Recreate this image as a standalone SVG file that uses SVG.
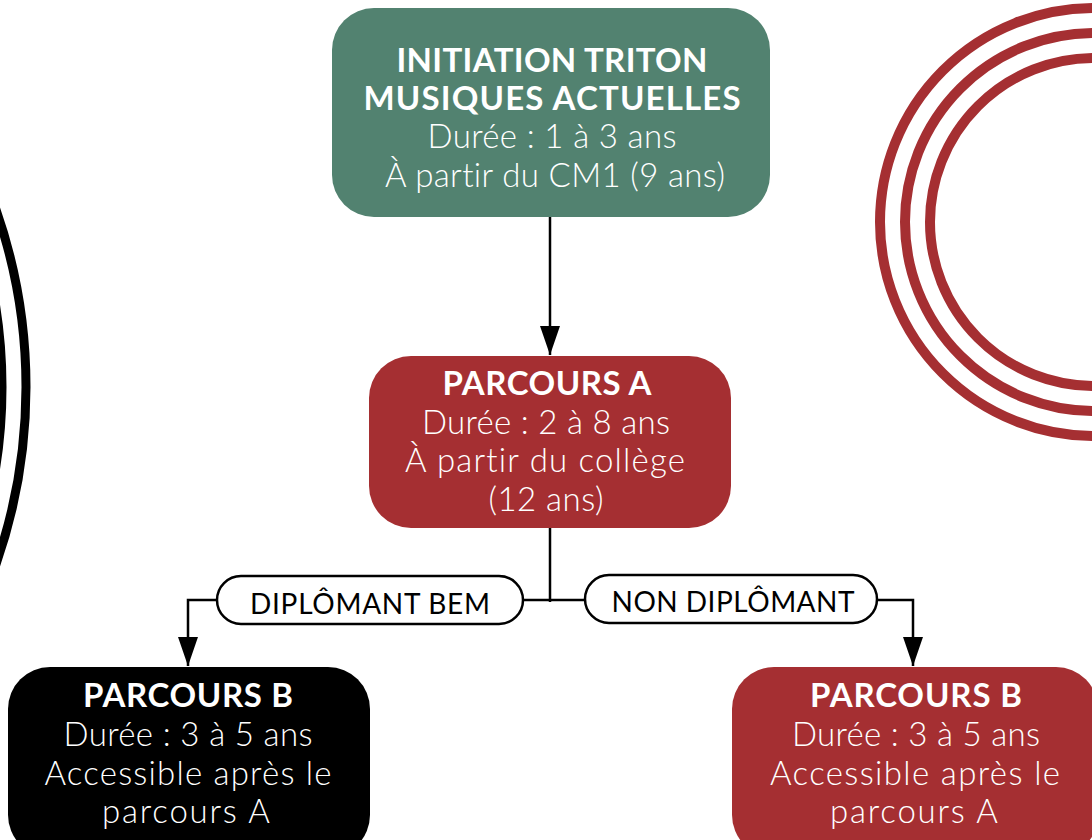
<svg xmlns="http://www.w3.org/2000/svg" width="1092" height="840" viewBox="0 0 1092 840">
<defs>
<style>
.t{font-family:Lato,"Liberation Sans",sans-serif;fill:#fff;text-anchor:middle;font-variant-ligatures:none}
.b{font-weight:700;font-size:33px}
.l{font-weight:300;font-size:33px}
.conn{fill:none;stroke:#000;stroke-width:2.5}
.pill{fill:#fff;stroke:#000;stroke-width:2.5}
.pt{font-family:Lato,"Liberation Sans",sans-serif;font-size:28px;fill:#000;text-anchor:middle}
.ring{fill:none;stroke:#a52f32;stroke-width:10}
.bring{fill:none;stroke:#000;stroke-width:9}
</style>
<marker id="ah" markerUnits="userSpaceOnUse" markerWidth="29" markerHeight="20" refX="29" refY="10" orient="auto">
<path d="M0,0 L29,10 L0,20 z" fill="#000"/>
</marker>
</defs>
<rect width="1092" height="840" fill="#fff"/>
<g id="decor">
<circle class="bring" cx="-512" cy="387" r="538"/>
<circle class="bring" cx="-512" cy="387" r="514"/>
<circle class="ring" cx="1094" cy="222" r="214"/>
<circle class="ring" cx="1094" cy="222" r="189"/>
<circle class="ring" cx="1094" cy="222" r="164"/>
</g>
<g id="connectors">
<path class="conn" d="M550,217 V355" marker-end="url(#ah)"/>
<path class="conn" d="M550,528 V602"/>
<path class="conn" d="M550,600 H188 V666" marker-end="url(#ah)"/>
<path class="conn" d="M550,600 H913 V666" marker-end="url(#ah)"/>
</g>
<g id="label-diplomant">
<rect class="pill" x="217" y="576" width="306" height="48" rx="24"/>
<text class="pt" x="370" y="614" textLength="240">DIPLÔMANT BEM</text>
</g>
<g id="label-non-diplomant">
<rect class="pill" x="585" y="575" width="292" height="48" rx="24"/>
<text class="pt" x="733" y="612" textLength="243">NON DIPLÔMANT</text>
</g>
<g id="initiation">
<rect x="332" y="8" width="438" height="209" rx="42" fill="#528270"/>
<text class="t b" x="552" y="72" textLength="311">INITIATION TRITON</text>
<text class="t b" x="552" y="110" textLength="377">MUSIQUES ACTUELLES</text>
<text class="t l" x="552" y="148" textLength="249">Durée : 1 à 3 ans</text>
<text class="t l" x="555" y="187" textLength="340">À partir du CM1 (9 ans)</text>
</g>
<g id="parcours-a">
<rect x="369" y="356" width="362" height="172" rx="42" fill="#a52f32"/>
<text class="t b" x="547" y="395" textLength="209">PARCOURS A</text>
<text class="t l" x="546" y="434" textLength="248">Durée : 2 à 8 ans</text>
<text class="t l" x="545" y="472" textLength="280">À partir du collège</text>
<text class="t l" x="546" y="511" textLength="115">(12 ans)</text>
</g>
<g id="parcours-b-left">
<rect x="8" y="667" width="362" height="190" rx="42" fill="#000"/>
<text class="t b" x="188" y="707" textLength="210">PARCOURS B</text>
<text class="t l" x="188" y="746" textLength="249">Durée : 3 à 5 ans</text>
<text class="t l" x="188" y="785" textLength="287">Accessible après le</text>
<text class="t l" x="186" y="823" textLength="168">parcours A</text>
</g>
<g id="parcours-b-right">
<rect x="732" y="667" width="366" height="190" rx="42" fill="#a52f32"/>
<text class="t b" x="916" y="707" textLength="212">PARCOURS B</text>
<text class="t l" x="916" y="746" textLength="248">Durée : 3 à 5 ans</text>
<text class="t l" x="915" y="785" textLength="290">Accessible après le</text>
<text class="t l" x="914" y="823" textLength="168">parcours A</text>
</g>
</svg>
